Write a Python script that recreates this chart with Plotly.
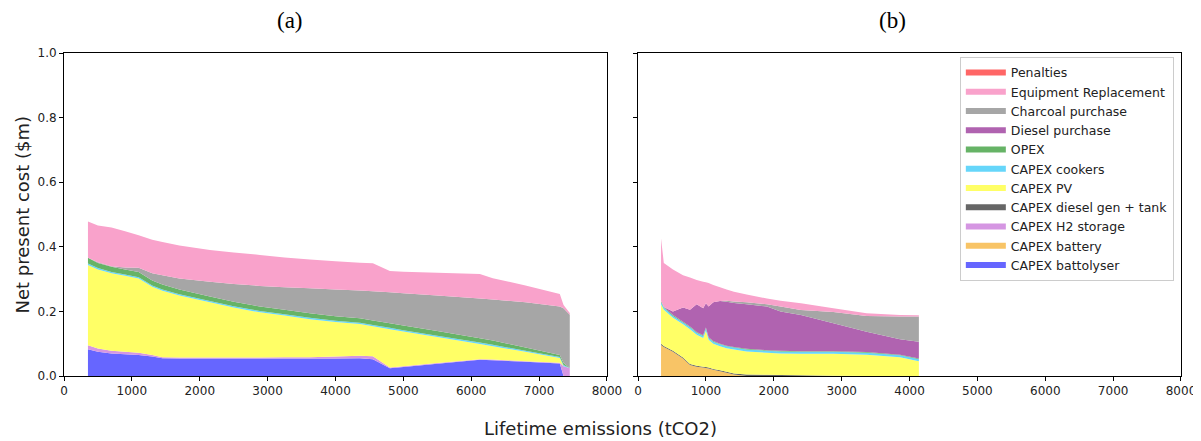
import plotly.graph_objects as go

# ---------------- data ----------------
series_names = ["CAPEX battolyser", "CAPEX battery", "CAPEX H2 storage", "CAPEX diesel gen + tank",
                "CAPEX PV", "CAPEX cookers", "OPEX", "Diesel purchase", "Charcoal purchase",
                "Equipment Replacement", "Penalties"]
series_colors = ["#6666ff", "#f8c466", "#d596e2", "#666666", "#ffff66", "#66d6fa",
                 "#66b366", "#b063b0", "#a6a6a6", "#f9a2cb", "#ff6666"]

# Panel (a)
x_a = [353, 500, 700, 900, 1100, 1300, 1450, 1700, 2150, 2500, 2887, 3250, 3623, 4000,
       4360, 4551, 4801, 5000, 5500, 6127, 6318, 6800, 7305, 7360, 7452]
a_battolyser = [.083, .075, .070, .067, .065, .060, .055, .054, .054, .054, .054, .054, .054, .054,
                .055, .052, .024, .028, .038, .050, .049, .044, .039, 0, 0]
a_battery = [0] * 25
a_h2 = [.012, .010, .008, .008, .007, .005, .003, .003, .003, .003, .003, .004, .004, .006,
        .008, .009, .002, .002, .002, .002, .002, .002, .002, .030, .025]
a_dieselgen = [0] * 25
a_pv = [.249, .245, .240, .235, .230, .211, .206, .192, .171, .155, .140, .129, .118, .107,
        .098, .093, .119, .108, .081, .047, .041, .029, .015, 0, 0]
a_cookers = [.004] * 19 + [.005, .005, .003, .003, .004, 0]
a_opex = [.018, .016, .016, .016, .016, .016, .015, .015, .014, .014, .014, .014, .014, .014,
          .014, .014, .014, .014, .014, .013, .013, .010, .006, .006, 0]
a_diesel = [0] * 25
a_charcoal = [0, .002, .002, .006, .013, .022, .029, .034, .046, .055, .064, .070, .078, .083,
              .086, .090, .096, .100, .110, .123, .127, .140, .150, .170, .165]
a_replacement = [.112, .114, .120, .112, .101, .104, .103, .102, .098, .097, .096, .092, .089, .087,
                 .086, .087, .066, .067, .071, .076, .066, .052, .039, .010, .005]
a_penalties = [0] * 25

# Panel (b)
x_b = [339, 380, 515, 663, 766, 864, 960, 1000, 1040, 1109, 1208, 1305, 1414, 1600, 1900,
       2100, 2400, 2878, 3368, 3860, 4138]
b_battolyser = [0] * 21
b_battery = [.096, .090, .075, .054, .034, .029, .026, .025, .023, .019, .015, .010, .005, 0, 0,
             0, 0, 0, 0, 0, 0]
b_h2 = [0] * 21
b_dieselgen = [.004, .003, .003, .003, .003, .003, .003, .003, .003, .003, .003, .003, .003, .005, .004,
               .003, .002, .001, 0, 0, 0]
b_pv = [.122, .112, .102, .103, .108, .096, .089, .112, .086, .078, .074, .073, .074, .071, .068,
        .067, .067, .068, .066, .058, .046]
b_cookers = [.006] * 7 + [.008] + [.006] * 13
b_opex = [.004, .003, .003] + [.002] * 18
b_diesel = [0, 0, .011, .044, .052, .086, .084, .075, .095, .120, .132, .136, .136, .138, .135,
            .122, .112, .086, .063, .048, .052]
b_charcoal = [0] * 11 + [.003, .005, .006, .007, .015, .015, .035, .049, .070, .078]
b_replacement = [.194, .136, .130, .100, .100, .075, .082, .065, .073, .054, .043, .035, .030, .024, .018,
                 .018, .021, .012, .008, .005, .004]
b_penalties = [0] * 21

panel_a = [a_battolyser, a_battery, a_h2, a_dieselgen, a_pv, a_cookers, a_opex, a_diesel,
           a_charcoal, a_replacement, a_penalties]
panel_b = [b_battolyser, b_battery, b_h2, b_dieselgen, b_pv, b_cookers, b_opex, b_diesel,
           b_charcoal, b_replacement, b_penalties]

x_ticks = [0, 1000, 2000, 3000, 4000, 5000, 6000, 7000, 8000]
y_ticks = [0.0, 0.2, 0.4, 0.6, 0.8, 1.0]

# ---------------- figure ----------------
fig = go.Figure()
for name, color, ya in zip(series_names, series_colors, panel_a):
    fig.add_trace(go.Scatter(x=x_a, y=ya, name=name, stackgroup="a", mode="none",
                             fillcolor=color, legendgroup=name, showlegend=True,
                             xaxis="x", yaxis="y"))
for name, color, yb in zip(series_names, series_colors, panel_b):
    fig.add_trace(go.Scatter(x=x_b, y=yb, name=name, stackgroup="b", mode="none",
                             fillcolor=color, legendgroup=name, showlegend=False,
                             xaxis="x2", yaxis="y2"))

axis_common = dict(showline=True, linecolor="black", linewidth=1, mirror=True,
                   ticks="outside", ticklen=4, tickcolor="black", showgrid=False,
                   zeroline=False, tickfont=dict(family="DejaVu Sans", size=12, color="#222"))

fig.update_layout(
    width=1201, height=441,
    margin=dict(l=56, r=28, t=45, b=73),
    plot_bgcolor="white", paper_bgcolor="white",
    font=dict(family="DejaVu Sans", color="#222"),
    xaxis=dict(domain=[0, 0.4861], range=[0, 8000], tickvals=x_ticks, **axis_common),
    yaxis=dict(range=[0, 1], tickvals=y_ticks, tickformat=".1f", **axis_common),
    xaxis2=dict(domain=[0.5139, 1], range=[0, 8000], tickvals=x_ticks, anchor="y2", **axis_common),
    yaxis2=dict(range=[0, 1], tickvals=y_ticks, showticklabels=False, anchor="x2", **axis_common),
    legend=dict(x=0.802, y=0.988, xanchor="left", yanchor="top", traceorder="reversed",
                bordercolor="#cccccc", borderwidth=1, bgcolor="white", itemwidth=40,
                font=dict(family="DejaVu Sans", size=12.5, color="#222"),
                tracegroupgap=0),
    annotations=[
        dict(text="(a)", x=0.2023, y=1.102, xref="paper", yref="paper", showarrow=False,
             xanchor="center", yanchor="middle",
             font=dict(family="Liberation Serif", size=23, color="black")),
        dict(text="(b)", x=0.742, y=1.102, xref="paper", yref="paper", showarrow=False,
             xanchor="center", yanchor="middle",
             font=dict(family="Liberation Serif", size=23, color="black")),
        dict(text="Net present cost ($m)", x=-0.0376, y=0.5, xref="paper", yref="paper",
             showarrow=False, textangle=-90, xanchor="center", yanchor="middle",
             font=dict(family="DejaVu Sans", size=18, color="#222")),
        dict(text="Lifetime emissions (tCO2)", x=0.4799, y=-0.161, xref="paper", yref="paper",
             showarrow=False, xanchor="center", yanchor="middle",
             font=dict(family="DejaVu Sans", size=18, color="#222")),
    ],
)

fig.write_html("out.html")
